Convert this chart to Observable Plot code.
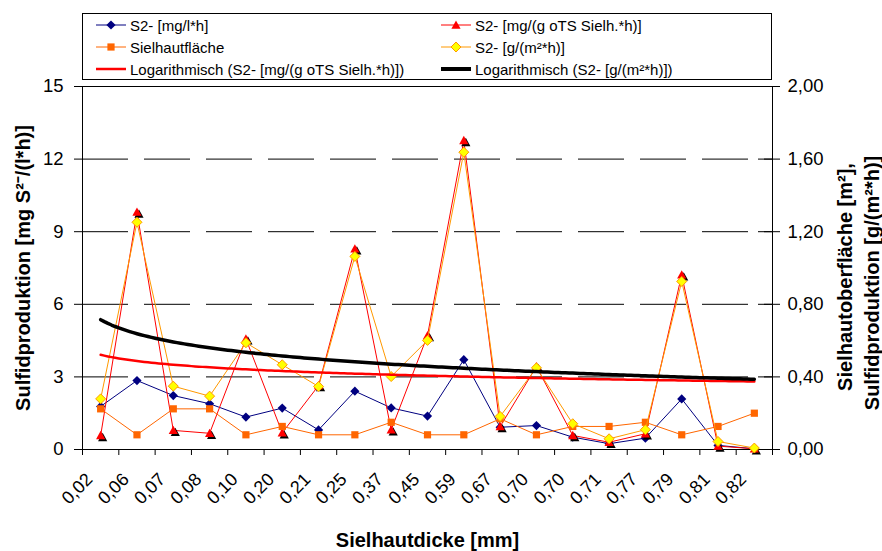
<!DOCTYPE html>
<html>
<head>
<meta charset="utf-8">
<script src="https://cdn.jsdelivr.net/npm/d3@7"></script>
<script src="https://cdn.jsdelivr.net/npm/@observablehq/plot@0.6"></script>
<style>
  html, body { margin: 0; padding: 0; background: #fff; }
  #chart { position: relative; width: 882px; height: 551px; font-family: "Liberation Sans", Arial, sans-serif; }
  #legend { position: absolute; left: 82px; top: 13px; width: 690px; height: 67px; box-sizing: border-box; border: 1px solid #000; background: #fff; z-index: 2; }
  .item { position: absolute; height: 20px; display: flex; align-items: center; font-size: 15px; color: #000; white-space: nowrap; }
  .item svg { display: block; margin-right: 4px; }
</style>
</head>
<body>
<div id="chart"><div id="legend"></div></div>
<script>
// ---- data ----
const categories = ["0,02","0,06","0,07","0,08","0,10","0,20","0,21","0,25","0,37","0,45","0,59","0,67","0,70","0,70","0,71","0,77","0,79","0,81","0,82"];
// S2- [mg/l*h] (left axis)
const s2PerLiter = [1.78,2.85,2.23,1.89,1.34,1.71,0.81,2.41,1.72,1.38,3.71,0.92,0.99,0.51,0.24,0.47,2.09,0.17,0.03];
// S2- [mg/(g oTS Sielh.*h)] (left axis)
const s2PerOTS = [0.58,9.81,0.79,0.67,4.57,0.69,2.64,8.29,0.81,4.71,12.77,0.95,3.43,0.58,0.30,0.65,7.22,0.14,0.03];
// Sielhautfläche [m²] (right axis)
const sielhautflaeche = [0.224,0.081,0.224,0.224,0.081,0.127,0.081,0.081,0.150,0.081,0.081,0.169,0.081,0.127,0.127,0.150,0.081,0.127,0.200];
// S2- [g/(m²*h)] (right axis)
const s2PerArea = [0.279,1.252,0.349,0.294,0.588,0.467,0.347,1.064,0.402,0.601,1.638,0.182,0.450,0.142,0.059,0.109,0.926,0.044,0.008];

const leftTicks = [0,3,6,9,12,15];
const leftTickLabels = ["0","3","6","9","12","15"];
const rightTicks = [0,0.4,0.8,1.2,1.6,2.0];
const rightTickLabels = ["0,00","0,40","0,80","1,20","1,60","2,00"];
const leftMax = 15, rightMax = 2;

const legendLabels = [
  "S2- [mg/l*h]",
  "S2- [mg/(g oTS Sielh.*h)]",
  "Sielhautfläche",
  "S2- [g/(m²*h)]",
  "Logarithmisch (S2- [mg/(g oTS Sielh.*h)])",
  "Logarithmisch (S2- [g/(m²*h)])"
];

// ---- derived tables ----
const k = leftMax / rightMax; // right-axis units -> left-axis units
const rows = (vals, scale = 1) => vals.map((v, i) => ({x: i + 1, y: v * scale}));
const blue = rows(s2PerLiter);
const red = rows(s2PerOTS);
const orange = rows(sielhautflaeche, k);
const yellow = rows(s2PerArea, k);

// least-squares logarithmic trend lines (as Excel does), y = a + b ln(x)
function logFit(vals) {
  const lx = vals.map((_, i) => Math.log(i + 1));
  const mx = d3.mean(lx), my = d3.mean(vals);
  const b = d3.sum(lx, (v, i) => (v - mx) * (vals[i] - my)) / d3.sum(lx, v => (v - mx) ** 2);
  const a = my - b * mx;
  return d3.range(1, vals.length + 0.001, 0.1).map(x => ({x, y: a + b * Math.log(x)}));
}
const trendRed = logFit(s2PerOTS);
const trendBlack = logFit(s2PerArea).map(d => ({x: d.x, y: d.y * k}));

// ---- symbols ----
const diamond = {draw(c, s) { const r = Math.sqrt(s / Math.PI); c.moveTo(0, -r); c.lineTo(r, 0); c.lineTo(0, r); c.lineTo(-r, 0); c.closePath(); }};
const square = {draw(c, s) { const r = Math.sqrt(s / Math.PI); c.rect(-r, -r, 2 * r, 2 * r); }};
const triangle = {draw(c, s) { const r = Math.sqrt(s / Math.PI); c.moveTo(0, -r); c.lineTo(r, r * 0.8); c.lineTo(-r, r * 0.8); c.closePath(); }};

const NAVY = "#000080", RED = "#FF0000", ORANGE = "#FF6600", GOLD = "#FF9900", YELLOW = "#FFFF00";

const boundaries = d3.range(0.5, categories.length + 0.6, 1);

const chart = Plot.plot({
  width: 882,
  height: 551,
  marginLeft: 82,
  marginRight: 110,
  marginTop: 86,
  marginBottom: 102,
  style: {fontFamily: "'Liberation Sans', Arial, sans-serif", fontSize: "18px", color: "#000", background: "#fff", overflow: "visible"},
  x: {domain: [0.5, categories.length + 0.5]},
  y: {domain: [0, leftMax]},
  marks: [
    Plot.ruleY([3, 6, 9, 12], {stroke: "#000", strokeWidth: 1, strokeDasharray: "46,16"}),
    Plot.frame({stroke: "#000", strokeWidth: 1}),
    Plot.axisY(leftTicks, {anchor: "left", tickSize: 8, tickPadding: 11, label: null,
      tickFormat: d => leftTickLabels[leftTicks.indexOf(d)], fontSize: 18.5}),
    Plot.axisY(rightTicks.map(v => v * k), {anchor: "right", tickSize: 7, tickPadding: 8, label: null,
      tickFormat: d => rightTickLabels[rightTicks.findIndex(v => Math.abs(v * k - d) < 1e-9)], fontSize: 18.5}),
    Plot.tickY(rightTicks.map(v => v * k), {y: d => d, insetLeft: 676, stroke: "#000"}),
    Plot.axisX(boundaries, {tickSize: 6, tickFormat: () => "", label: null}),
    Plot.text(categories, {x: (d, i) => i + 1, frameAnchor: "bottom", text: d => d, rotate: -45,
      textAnchor: "end", lineAnchor: "bottom", dx: -7, dy: 31, fontSize: 18}),
    // axis titles
    Plot.text(["Sulfidproduktion [mg S²⁻/(l*h)]"], {frameAnchor: "left", dx: -59, rotate: -90, text: d => d,
      textAnchor: "middle", lineAnchor: "middle", fontWeight: "bold", fontSize: 20}),
    Plot.text(["Sielhautoberfläche [m²],"], {frameAnchor: "right", dx: 73, dy: 9, rotate: -90, text: d => d,
      textAnchor: "middle", lineAnchor: "middle", fontWeight: "bold", fontSize: 20}),
    Plot.text(["Sulfidproduktion [g/(m²*h)]"], {frameAnchor: "right", dx: 100, dy: 15, rotate: -90, text: d => d,
      textAnchor: "middle", lineAnchor: "middle", fontWeight: "bold", fontSize: 20}),
    Plot.text(["Sielhautdicke [mm]"], {frameAnchor: "bottom", dy: 91, text: d => d,
      textAnchor: "middle", lineAnchor: "middle", fontWeight: "bold", fontSize: 20}),
    // series 1: blue
    Plot.line(blue, {x: "x", y: "y", stroke: NAVY, strokeWidth: 1}),
    Plot.dot(blue, {x: "x", y: "y", symbol: diamond, r: 4.6, fill: NAVY}),
    // series 2: red with shadowed triangles
    Plot.line(red, {x: "x", y: "y", stroke: RED, strokeWidth: 1}),
    Plot.dot(red, {x: "x", y: "y", symbol: triangle, r: 4.6, fill: "#000", dx: 2, dy: 2}),
    Plot.dot(red, {x: "x", y: "y", symbol: triangle, r: 4.6, fill: RED}),
    // series 3: orange squares
    Plot.line(orange, {x: "x", y: "y", stroke: ORANGE, strokeWidth: 1}),
    Plot.dot(orange, {x: "x", y: "y", symbol: square, r: 3.6, fill: ORANGE}),
    // series 4: yellow diamonds
    Plot.line(yellow, {x: "x", y: "y", stroke: GOLD, strokeWidth: 1}),
    Plot.dot(yellow, {x: "x", y: "y", symbol: diamond, r: 5, fill: YELLOW, stroke: GOLD, strokeWidth: 1}),
    // trend lines
    Plot.line(trendRed, {x: "x", y: "y", stroke: RED, strokeWidth: 2.5}),
    Plot.line(trendBlack, {x: "x", y: "y", stroke: "#000", strokeWidth: 3.5})
  ]
});
document.getElementById("chart").insertBefore(chart, document.getElementById("legend"));

// ---- legend ----
const legendItems = [
  {label: legendLabels[0], col: 0, row: 0, stroke: NAVY, sw: 1, sym: "diamond", fill: NAVY},
  {label: legendLabels[1], col: 1, row: 0, stroke: RED, sw: 1, sym: "triangle", fill: RED},
  {label: legendLabels[2], col: 0, row: 1, stroke: ORANGE, sw: 1, sym: "square", fill: ORANGE},
  {label: legendLabels[3], col: 1, row: 1, stroke: GOLD, sw: 1, sym: "diamond", fill: YELLOW, symStroke: GOLD},
  {label: legendLabels[4], col: 0, row: 2, stroke: RED, sw: 2.5},
  {label: legendLabels[5], col: 1, row: 2, stroke: "#000", sw: 4}
];
const colLeft = [96, 441], rowCenter = [25, 47, 69];
const legend = document.getElementById("legend");
for (const it of legendItems) {
  const div = document.createElement("div");
  div.className = "item";
  div.style.left = (colLeft[it.col] - 83) + "px";
  div.style.top = (rowCenter[it.row] - 14 - 10) + "px";
  let marker = "";
  if (it.sym === "diamond") {
    const r = it.symStroke ? 5 : 4.6;
    marker = `<path d="M15,${10 - r}L${15 + r},10L15,${10 + r}L${15 - r},10Z" fill="${it.fill}" ${it.symStroke ? `stroke="${it.symStroke}"` : ""}/>`;
  } else if (it.sym === "triangle") {
    marker = `<path d="M15,5.4L19.6,13.7L10.4,13.7Z" fill="${it.fill}"/>`;
  } else if (it.sym === "square") {
    marker = `<rect x="11.4" y="6.4" width="7.2" height="7.2" fill="${it.fill}"/>`;
  }
  div.innerHTML = `<svg width="30" height="20"><line x1="0" x2="30" y1="10" y2="10" stroke="${it.stroke}" stroke-width="${it.sw}"/>${marker}</svg><span>${it.label}</span>`;
  legend.appendChild(div);
}
</script>
</body>
</html>
